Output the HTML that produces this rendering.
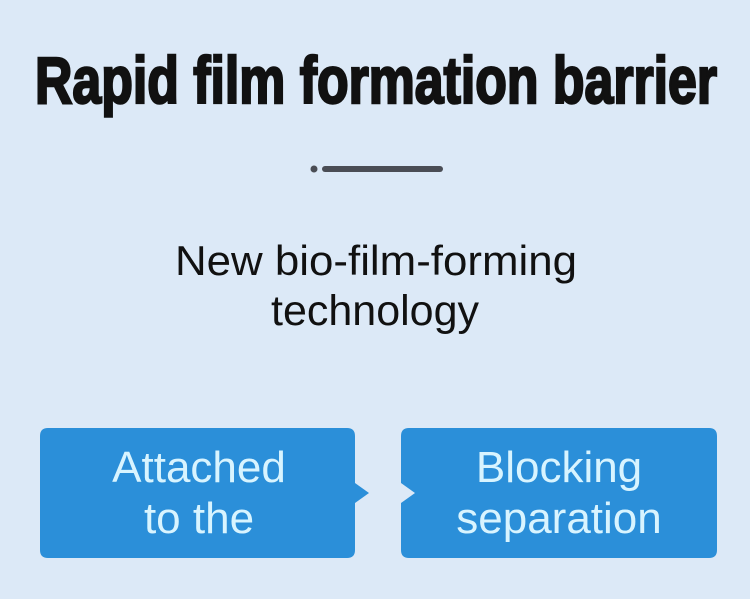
<!DOCTYPE html>
<html><head><meta charset="utf-8"><style>
html,body{margin:0;padding:0;background:#dce9f7;}
svg{display:block}
</style></head><body>
<svg width="750" height="599" viewBox="0 0 750 599" xmlns="http://www.w3.org/2000/svg">
<rect width="750" height="599" fill="#dce9f7"/>
<text x="35" y="103" font-family="Liberation Sans, sans-serif" font-weight="bold" font-size="66" fill="#111" stroke="#111" stroke-width="2.5" textLength="682" lengthAdjust="spacingAndGlyphs">Rapid film formation barrier</text>
<circle cx="314" cy="169" r="3.5" fill="#4a4d55"/>
<line x1="325" y1="169" x2="440" y2="169" stroke="#4a4d55" stroke-width="6" stroke-linecap="round"/>
<text x="175" y="275" font-family="Liberation Sans, sans-serif" font-size="42" fill="#111" textLength="402" lengthAdjust="spacingAndGlyphs">New bio-film-forming</text>
<text x="375" y="325" text-anchor="middle" font-family="Liberation Sans, sans-serif" font-size="43" fill="#111">technology</text>
<path d="M48 428 H347 Q355 428 355 436 V483 L369 493 L355 503 V550 Q355 558 347 558 H48 Q40 558 40 550 V436 Q40 428 48 428 Z" fill="#2b8fd9"/>
<path d="M409 428 H709 Q717 428 717 436 V550 Q717 558 709 558 H409 Q401 558 401 550 V503 L415 493 L401 483 V436 Q401 428 409 428 Z" fill="#2b8fd9"/>
<g font-family="Liberation Sans, sans-serif" font-size="44" fill="#d8f4ff" text-anchor="middle">
<text x="199" y="482">Attached</text>
<text x="199" y="533">to the</text>
<text x="559" y="482">Blocking</text>
<text x="559" y="533">separation</text>
</g>
</svg>
</body></html>
